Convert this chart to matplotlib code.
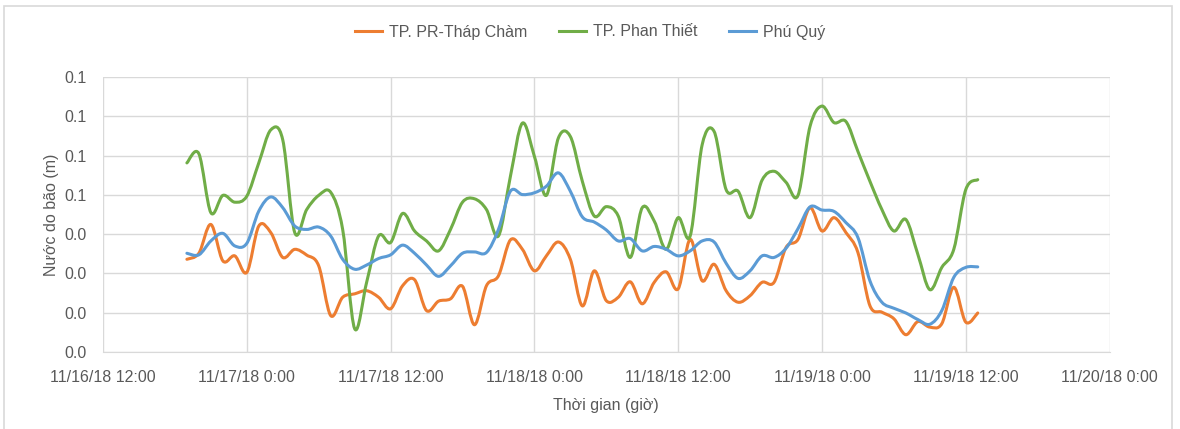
import numpy as np
import pandas as pd
import matplotlib
matplotlib.use("Agg")
import matplotlib.pyplot as plt
import matplotlib.dates as mdates
from matplotlib.path import Path
from matplotlib.patches import PathPatch, Rectangle
from matplotlib.lines import Line2D
from matplotlib.ticker import FuncFormatter, MultipleLocator

# hourly values, 11/16/18 19:00 -> 11/19/18 13:00
times = pd.date_range("2018-11-16 19:00", periods=67, freq="h")

pr_thap_cham = [0.0354, 0.0377, 0.0487, 0.0348, 0.0367, 0.0304, 0.0481, 0.0456, 0.0361,
                0.0392, 0.0370, 0.0329, 0.0139, 0.0209, 0.0222, 0.0234, 0.0209, 0.0165,
                0.0253, 0.0276, 0.0158, 0.0194, 0.0203, 0.0251, 0.0104, 0.0253, 0.0291,
                0.0428, 0.0392, 0.0310, 0.0367, 0.0420, 0.0354, 0.0176, 0.0310, 0.0196,
                0.0209, 0.0268, 0.0184, 0.0266, 0.0306, 0.0241, 0.0430, 0.0272, 0.0335,
                0.0234, 0.0190, 0.0215, 0.0266, 0.0266, 0.0399, 0.0430, 0.0551, 0.0462,
                0.0513, 0.0456, 0.0380, 0.0177, 0.0152, 0.0127, 0.0066, 0.0116, 0.0095,
                0.0108, 0.0247, 0.0114, 0.0149]

phan_thiet = [0.0722, 0.0757, 0.0532, 0.0598, 0.0572, 0.0595, 0.0722, 0.0848, 0.0810,
              0.0456, 0.0544, 0.0598, 0.0610, 0.0468, 0.0089, 0.0266, 0.0443, 0.0418,
              0.0529, 0.0462, 0.0424, 0.0386, 0.0468, 0.0572, 0.0585, 0.0544, 0.0443,
              0.0671, 0.0874, 0.0747, 0.0598, 0.0817, 0.0823, 0.0652, 0.0519, 0.0555,
              0.0519, 0.0361, 0.0551, 0.0500, 0.0392, 0.0513, 0.0443, 0.0791, 0.0842,
              0.0620, 0.0614, 0.0513, 0.0656, 0.0690, 0.0648, 0.0598, 0.0861, 0.0939,
              0.0876, 0.0880, 0.0766, 0.0652, 0.0544, 0.0462, 0.0506, 0.0373, 0.0238,
              0.0323, 0.0392, 0.0620, 0.0658]

phu_quy = [0.0377, 0.0371, 0.0424, 0.0453, 0.0405, 0.0415, 0.0538, 0.0592, 0.0551,
           0.0481, 0.0468, 0.0477, 0.0443, 0.0354, 0.0316, 0.0332, 0.0357, 0.0371,
           0.0408, 0.0377, 0.0332, 0.0289, 0.0329, 0.0377, 0.0382, 0.0380, 0.0468,
           0.0614, 0.0601, 0.0608, 0.0633, 0.0684, 0.0614, 0.0516, 0.0496, 0.0466,
           0.0424, 0.0433, 0.0386, 0.0403, 0.0392, 0.0367, 0.0386, 0.0424, 0.0420,
           0.0339, 0.0281, 0.0310, 0.0367, 0.0361, 0.0396, 0.0471, 0.0554, 0.0542,
           0.0537, 0.0494, 0.0437, 0.0272, 0.0190, 0.0167, 0.0149, 0.0124, 0.0106,
           0.0158, 0.0285, 0.0323, 0.0325]

series_names = ["TP. PR-Tháp Chàm", "TP. Phan Thiết", "Phú Quý"]
series_colors = ["#ED7D31", "#70AD47", "#5B9BD5"]

plt.rcParams['font.family'] = ['Liberation Sans', 'DejaVu Sans']
text_color = "#595959"


#smoothed line like excel: bezier segments through every point
def smooth_path(x, y):
    p = np.column_stack([x, y])
    n = len(p)
    verts = [p[0]]
    codes = [Path.MOVETO]
    for i in range(n - 1):
        p0 = p[max(i - 1, 0)]
        p1 = p[i]
        p2 = p[i + 1]
        p3 = p[min(i + 2, n - 1)]
        c1 = p1 + (p2 - p0) / 6.0
        c2 = p2 - (p3 - p1) / 6.0
        verts += [c1, c2, p2]
        codes += [Path.CURVE4] * 3
    return Path(verts, codes)


fig = plt.figure(figsize=(11.8, 4.29), dpi=100)
ax = fig.add_axes([0.0873, 0.1795, 0.853, 0.641])

xnum = mdates.date2num(times.to_pydatetime())
handles = []
for vals, name, col in zip([pr_thap_cham, phan_thiet, phu_quy], series_names, series_colors):
    patch = PathPatch(smooth_path(xnum, np.array(vals)), fill=False, edgecolor=col,
                      lw=2.2, capstyle='round', joinstyle='round', zorder=3)
    ax.add_patch(patch)
    handles.append(Line2D([], [], color=col, lw=2.2, label=name))

ax.set_xlim(mdates.date2num(pd.Timestamp("2018-11-16 12:00")),
            mdates.date2num(pd.Timestamp("2018-11-20 00:00")))
ax.set_ylim(0, 0.105)
ax.yaxis.set_major_locator(MultipleLocator(0.015))
ax.yaxis.set_major_formatter(FuncFormatter(lambda v, pos: "%.1f" % v))
ax.xaxis.set_major_locator(mdates.HourLocator(byhour=[0, 12]))


def date_label(v, pos):
    d = mdates.num2date(v)
    return "%d/%d/%s %d:%s" % (d.month, d.day, d.strftime("%y"), d.hour, d.strftime("%M"))


ax.xaxis.set_major_formatter(FuncFormatter(date_label))

ax.grid(True, color="#D9D9D9", lw=1)
ax.set_axisbelow(True)
for s in ["top", "right", "left"]:
    ax.spines[s].set_visible(False)
ax.spines["bottom"].set_color("#D9D9D9")
ax.tick_params(length=0, labelsize=11.5, colors=text_color)
ax.tick_params(axis='x', pad=13)
ax.tick_params(axis='y', pad=12)

ax.set_ylabel("Nước do bão (m)", fontsize=11.5, color=text_color, labelpad=4)
ax.set_xlabel("Thời gian (giờ)", fontsize=11.5, color=text_color, labelpad=9)

fig.legend(handles=handles, loc="center", bbox_to_anchor=(0.5, 1 - 32 / 429), ncol=3,
           frameon=False, fontsize=11.5, handlelength=1.7, columnspacing=2.0,
           handletextpad=0.4, labelcolor=text_color)

# chart area border
fig.patches.append(Rectangle((4 / 1180, -0.01), 1168 / 1180, 1 - 6 / 429 + 0.01,
                             transform=fig.transFigure, fill=False,
                             edgecolor="#D9D9D9", lw=1.2))

fig.savefig("out.png", dpi=100)
